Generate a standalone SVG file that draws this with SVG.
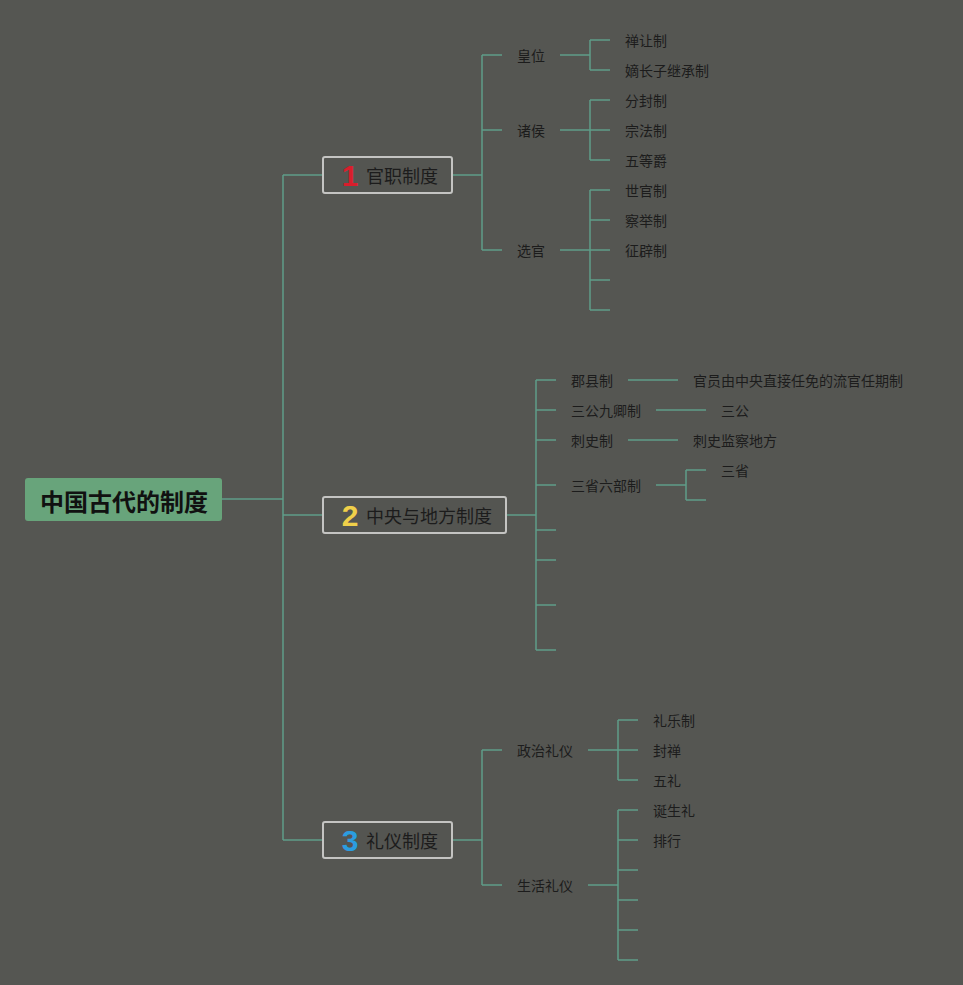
<svg xmlns="http://www.w3.org/2000/svg" width="963" height="985" viewBox="0 0 963 985">
<style>
.bg{fill:#555652}
.ln{stroke:#5f9d89;stroke-width:1.5;fill:none}
.t{font-family:"Noto Sans CJK SC","Liberation Sans",sans-serif;font-size:14px;fill:#1c1c1c;dominant-baseline:central}
.bt{font-family:"Noto Sans CJK SC","Liberation Sans",sans-serif;font-size:18px;fill:#1c1c1c;dominant-baseline:central}
.box{fill:#545551;stroke:#c4c4c2;stroke-width:2}
.num{font-family:"Liberation Sans",sans-serif;font-weight:bold;font-size:30px;text-anchor:middle;dominant-baseline:central}
</style>
<rect class="bg" x="0" y="0" width="963" height="985"/>
<g id="connectors">
<path class="ln" d="M222 499H283M283 175V840M283 175H323M283 515H323M283 840H323"/>
<path class="ln" d="M452 175H482M482 55V250M482 55H502M482 130H502M482 250H502"/>
<path class="ln" d="M560 55H590M590 40V70M590 40H610M590 70H610"/>
<path class="ln" d="M560 130H590M590 100V160M590 100H610M590 130H610M590 160H610"/>
<path class="ln" d="M560 250H590M590 190V310M590 190H610M590 220H610M590 250H610M590 280H610M590 310H610"/>
<path class="ln" d="M506 515H536M536 380V650M536 380H556M536 410H556M536 440H556M536 485H556M536 530H556M536 560H556M536 605H556M536 650H556"/>
<path class="ln" d="M628 380H678M656 410H706M628 440H678"/>
<path class="ln" d="M656 485H686M686 470V500M686 470H706M686 500H706"/>
<path class="ln" d="M452 840H482M482 750V885M482 750H502M482 885H502"/>
<path class="ln" d="M588 750H618M618 720V780M618 720H638M618 750H638M618 780H638"/>
<path class="ln" d="M588 885H618M618 810V960M618 810H638M618 840H638M618 870H638M618 900H638M618 930H638M618 960H638"/>
</g>
<g id="root">
<rect x="25" y="478" width="197" height="43" rx="3" fill="#68a47b"/>
<text x="124" y="500" text-anchor="middle" font-family="'Noto Sans CJK SC','Liberation Sans',sans-serif" font-size="24" font-weight="bold" fill="#111" dominant-baseline="central">中国古代的制度</text>
</g>
<g id="n1">
<rect class="box" x="323" y="157" width="129" height="36" rx="2"/>
<text class="num" x="350" y="175" fill="#d81e2c">1</text>
<text class="bt" x="366" y="175">官职制度</text>
</g>
<g id="n2">
<rect class="box" x="323" y="497" width="183" height="36" rx="2"/>
<text class="num" x="350" y="515" fill="#f0d04a">2</text>
<text class="bt" x="366" y="515">中央与地方制度</text>
</g>
<g id="n3">
<rect class="box" x="323" y="822" width="129" height="36" rx="2"/>
<text class="num" x="350" y="840" fill="#2b9de0">3</text>
<text class="bt" x="366" y="840">礼仪制度</text>
</g>
<g id="n1-sub">
<text class="t" x="517" y="55">皇位</text>
<text class="t" x="517" y="130">诸侯</text>
<text class="t" x="517" y="250">选官</text>
<text class="t" x="625" y="40">禅让制</text>
<text class="t" x="625" y="70">嫡长子继承制</text>
<text class="t" x="625" y="100">分封制</text>
<text class="t" x="625" y="130">宗法制</text>
<text class="t" x="625" y="160">五等爵</text>
<text class="t" x="625" y="190">世官制</text>
<text class="t" x="625" y="220">察举制</text>
<text class="t" x="625" y="250">征辟制</text>
</g>
<g id="n2-sub">
<text class="t" x="571" y="380">郡县制</text>
<text class="t" x="571" y="410">三公九卿制</text>
<text class="t" x="571" y="440">刺史制</text>
<text class="t" x="571" y="485">三省六部制</text>
<text class="t" x="693" y="380">官员由中央直接任免的流官任期制</text>
<text class="t" x="721" y="410">三公</text>
<text class="t" x="693" y="440">刺史监察地方</text>
<text class="t" x="721" y="470">三省</text>
</g>
<g id="n3-sub">
<text class="t" x="517" y="750">政治礼仪</text>
<text class="t" x="517" y="885">生活礼仪</text>
<text class="t" x="653" y="720">礼乐制</text>
<text class="t" x="653" y="750">封禅</text>
<text class="t" x="653" y="780">五礼</text>
<text class="t" x="653" y="810">诞生礼</text>
<text class="t" x="653" y="840">排行</text>
</g>
</svg>
